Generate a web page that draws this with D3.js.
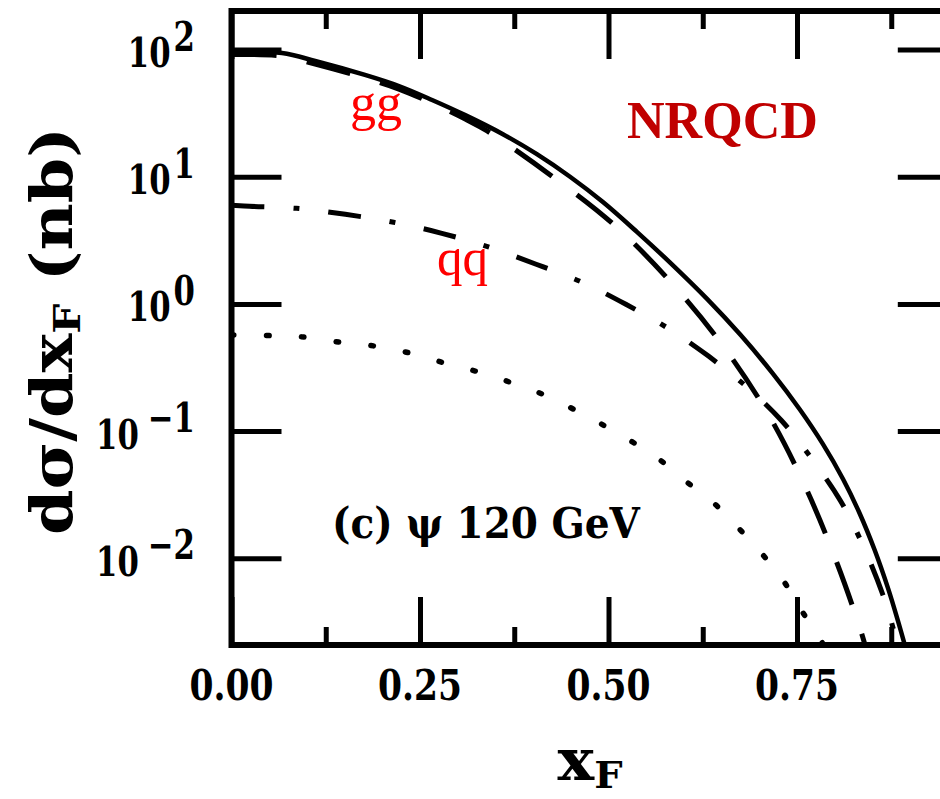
<!DOCTYPE html>
<html>
<head>
<meta charset="utf-8">
<script src="https://cdn.jsdelivr.net/npm/d3@7"></script>
<style>
  body { margin: 0; background: #fff; }
  svg { display: block; }
</style>
</head>
<body>
<svg id="chart" width="940" height="799"></svg>
<script>
// psi production at 120 GeV in NRQCD: dσ/dx_F (nb) versus x_F

// total (solid)
const xTotal = [0, 0.067, 0.111, 0.177, 0.222, 0.266, 0.310, 0.360, 0.405, 0.449, 0.493, 0.538,
                0.581, 0.631, 0.675, 0.718, 0.754, 0.784, 0.811, 0.833, 0.853, 0.871, 0.884, 0.895];
const sigmaTotal = [97.3, 93.8, 81.3, 63.1, 51.6, 40.1, 30.5, 21.6, 15.05, 10.0, 6.30, 3.67,
                    2.13, 1.09, 0.571, 0.283, 0.147, 0.0796, 0.0420, 0.0226, 0.0116, 0.00574, 0.00320, 0.00188];

// gg fusion (long dashes)
const xGG = [0, 0.067, 0.111, 0.177, 0.222, 0.266, 0.310, 0.339, 0.425, 0.509, 0.586, 0.653,
             0.714, 0.763, 0.804, 0.835, 0.842];
const sigmaGG = [91.4, 88.9, 76.9, 59.7, 48.9, 37.9, 28.4, 22.9, 10.1, 4.10, 1.41, 0.458,
                 0.129, 0.0344, 0.00885, 0.00264, 0.00190];

// qq annihilation (dash-dot)
const xQQ = [0, 0.024, 0.086, 0.151, 0.215, 0.279, 0.342, 0.404, 0.465, 0.523, 0.579, 0.633,
             0.684, 0.730, 0.771, 0.808, 0.836, 0.864, 0.880, 0.885];
const sigmaQQ = [5.96, 5.85, 5.64, 5.06, 4.38, 3.59, 2.79, 2.05, 1.48, 0.993, 0.643, 0.387,
                 0.221, 0.120, 0.0590, 0.0281, 0.0132, 0.00514, 0.00249, 0.00190];

// remaining contribution (dotted)
const xOther = [0, 0.053, 0.098, 0.145, 0.191, 0.238, 0.284, 0.329, 0.373, 0.416, 0.461, 0.489,
                0.528, 0.567, 0.604, 0.641, 0.674, 0.705, 0.734, 0.758, 0.783, 0.790];
const sigmaOther = [0.570, 0.563, 0.547, 0.499, 0.465, 0.409, 0.341, 0.290, 0.238, 0.191, 0.141, 0.115,
                    0.0847, 0.0601, 0.0397, 0.0267, 0.0169, 0.0106, 0.00638, 0.00372, 0.00220, 0.0017];

// axis ticks
const xMajorTicks = [0, 0.25, 0.5, 0.75];
const xMinorTicks = [0.125, 0.375, 0.625, 0.875];
const xTickLabels = ["0.00", "0.25", "0.50", "0.75"];
const yTicks = [1e-2, 1e-1, 1e0, 1e1, 1e2];
const yTickExponents = ["\u22122", "\u22121", "0", "1", "2"];

const svg = d3.select("#chart");
const serifBold = "'DejaVu Serif', serif";
const times = "'Liberation Serif', 'Times New Roman', serif";

const x = d3.scaleLinear().domain([0, 0.95]).range([231.5, 231.5 + 0.95 * 754]);
const y = d3.scaleLog().domain([Math.pow(10, -2.682), Math.pow(10, 2.303)]).range([645, 11]);

const [x0, x1] = x.range();
const [yb, yt] = y.range();

svg.append("clipPath").attr("id", "plot-clip")
  .append("rect").attr("x", x0).attr("y", yt).attr("width", x1 - x0).attr("height", yb - yt);

// curves
const line = d3.line()
  .x(d => x(d[0]))
  .y(d => y(d[1]))
  .curve(d3.curveCatmullRom.alpha(0.5));

const curves = [
  { xs: xTotal, ys: sigmaTotal, dash: null, width: 4.5, cap: "butt" },
  { xs: xGG, ys: sigmaGG, dash: "45,31", width: 5, cap: "butt" },
  { xs: xQQ, ys: sigmaQQ, dash: "33,29,6,29", width: 5, cap: "butt" },
  { xs: xOther, ys: sigmaOther, dash: "2.5,32.5", width: 5.5, cap: "round" }
];

const plot = svg.append("g").attr("clip-path", "url(#plot-clip)");
curves.forEach(c => {
  plot.append("path")
    .datum(d3.zip(c.xs, c.ys))
    .attr("d", line)
    .attr("fill", "none")
    .attr("stroke", "#000")
    .attr("stroke-width", c.width)
    .attr("stroke-linecap", c.cap)
    .attr("stroke-dasharray", c.dash);
});

// axes with inward ticks on all four sides
function styleAxis(g, w) {
  g.select(".domain").remove();
  g.selectAll(".tick line").attr("stroke", "#000").attr("stroke-width", w);
  g.selectAll(".tick text").remove();
}
svg.append("g").attr("transform", `translate(0,${yb})`)
  .call(d3.axisBottom(x).tickValues(xMajorTicks).tickSize(-48).tickSizeOuter(0)).call(g => styleAxis(g, 5));
svg.append("g").attr("transform", `translate(0,${yb})`)
  .call(d3.axisBottom(x).tickValues(xMinorTicks).tickSize(-18).tickSizeOuter(0)).call(g => styleAxis(g, 5));
svg.append("g").attr("transform", `translate(0,${yt})`)
  .call(d3.axisTop(x).tickValues(xMajorTicks).tickSize(-48).tickSizeOuter(0)).call(g => styleAxis(g, 5));
svg.append("g").attr("transform", `translate(0,${yt})`)
  .call(d3.axisTop(x).tickValues(xMinorTicks).tickSize(-18).tickSizeOuter(0)).call(g => styleAxis(g, 5));
svg.append("g").attr("transform", `translate(${x0},0)`)
  .call(d3.axisLeft(y).tickValues(yTicks).tickSize(-50).tickSizeOuter(0)).call(g => styleAxis(g, 5));
svg.append("g").attr("transform", `translate(${x1},0)`)
  .call(d3.axisRight(y).tickValues(yTicks).tickSize(-50).tickSizeOuter(0)).call(g => styleAxis(g, 5));

// frame
svg.append("rect")
  .attr("x", x0).attr("y", yt).attr("width", x1 - x0).attr("height", yb - yt)
  .attr("fill", "none").attr("stroke", "#000").attr("stroke-width", 6);

// text placed at (px,py) and squeezed horizontally to a given width
function fittedText(parent, px, py, width, build, opts) {
  const g = parent.append("g");
  const t = g.append("text")
    .attr("font-family", opts.family)
    .attr("font-weight", opts.weight || "normal")
    .attr("font-size", opts.size)
    .attr("fill", opts.fill || "#000")
    .attr("text-anchor", opts.anchor || "start");
  build(t);
  const s = width ? width / t.node().getComputedTextLength() : 1;
  g.attr("transform", `translate(${px},${py})${opts.rotate ? ` rotate(${opts.rotate})` : ""} scale(${s},1)`);
  return s;
}

// x tick labels
xMajorTicks.forEach((v, i) => {
  fittedText(svg, x(v), 700, 84, t => t.text(xTickLabels[i]),
    { family: serifBold, weight: "bold", size: 43, anchor: "middle" });
});

// y tick labels: 10 with a superscript exponent
yTicks.forEach((v, i) => {
  const ty = y(v);
  const sup = svg.append("text")
    .attr("font-family", serifBold).attr("font-weight", "bold").attr("font-size", 41)
    .attr("text-anchor", "end")
    .attr("transform", `translate(195,${ty + 1}) scale(0.75,1)`)
    .text(yTickExponents[i]);
  const supW = sup.node().getComputedTextLength() * 0.75;
  const gap = yTickExponents[i].length > 1 ? 9 : 3;
  svg.append("text")
    .attr("font-family", serifBold).attr("font-weight", "bold").attr("font-size", 41)
    .attr("text-anchor", "end")
    .attr("transform", `translate(${195 - supW - gap},${ty + 17.5}) scale(0.75,1)`)
    .text("10");
});

// axis titles
fittedText(svg, 590, 780, 65, t => {
  t.append("tspan").text("x");
  t.append("tspan").attr("font-size", "0.65em").attr("dy", "0.22em").text("F");
}, { family: serifBold, weight: "bold", size: 57, anchor: "middle" });

fittedText(svg, 72, 331, 408, t => {
  t.append("tspan").text("d\u03c3/dx");
  t.append("tspan").attr("font-size", "0.65em").attr("dy", "0.2em").text("F");
  t.append("tspan").attr("dy", "-0.13em").text(" (nb)");
}, { family: serifBold, weight: "bold", size: 58, anchor: "middle", rotate: -90 });

// panel caption
fittedText(svg, 332, 538, 308, t => t.text("(c) \u03c8 120 GeV"),
  { family: serifBold, weight: "bold", size: 42 });

// curve annotations
fittedText(svg, 350, 120, 52, t => t.text("gg"), { family: times, size: 52, fill: "#ff0000" });
fittedText(svg, 437, 275, 51, t => t.text("qq"), { family: times, size: 52, fill: "#ff0000" });
fittedText(svg, 627, 138, 191, t => t.text("NRQCD"),
  { family: times, weight: "bold", size: 53, fill: "#c00000" });
</script>
</body>
</html>
